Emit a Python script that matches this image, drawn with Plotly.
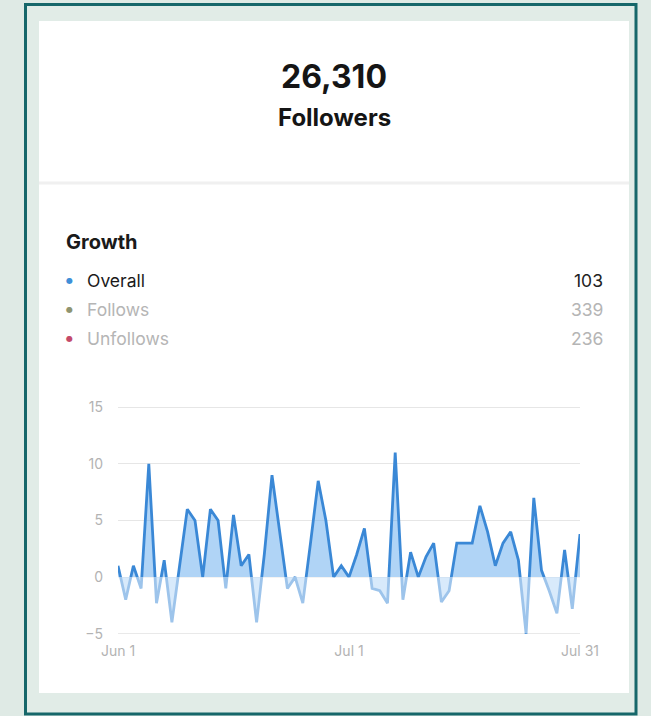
import pandas as pd
import plotly.graph_objects as go

# ---- data ----
start_date = "2023-06-01"
n_days = 61
overall_daily = [1, -2, 1, -1, 10, -2.3, 1.5, -4, 1, 6,
                 5, 0, 6, 5, -1, 5.5, 1, 2, -4, 2,
                 9, 4, -1, 0, -2.3, 3, 8.5, 5, 0, 1,
                 0, 2, 4.3, -1, -1.2, -2.3, 11, -2, 2.2, 0,
                 1.8, 3, -2.2, -1.2, 3, 3, 3, 6.3, 4, 1,
                 3, 4, 1.5, -5, 7, 0.6, -1.2, -3.2, 2.4, -2.8,
                 3.8]
total_followers = "26,310"
legend_labels = ["Overall", "Follows", "Unfollows"]
legend_values = ["103", "339", "236"]
x_tick_dates = ["2023-06-01", "2023-07-01", "2023-07-31"]
x_tick_text = ["Jun 1", "Jul 1", "Jul 31"]
y_ticks = [-5, 0, 5, 10, 15]

dates = pd.date_range(start_date, periods=n_days, freq="D")

# ---- layout geometry (pixels) ----
W, H = 651, 716
PL, PR, PT, PB = 118, 580, 405, 636   # plot area
Y_RANGE = [-5.2, 15.2]


def px(x):
    return (x - PL) / (PR - PL)


def py(y):
    return (PB - y) / (PB - PT)


FONT = "Inter"
LINE_BLUE = "#3a88d6"

fig = go.Figure()
fig.add_trace(go.Scatter(
    x=dates, y=overall_daily, mode="lines",
    line=dict(color=LINE_BLUE, width=2.8),
    fill="tozeroy", fillcolor="rgba(80,160,235,0.45)",
    hoverinfo="skip", showlegend=False,
))

shapes = [
    # outer teal frame
    dict(type="rect", xref="paper", yref="paper",
         x0=px(25.5), x1=px(636), y0=py(4.5), y1=py(714),
         line=dict(color="#16676a", width=3), fillcolor="#e1ece7", layer="below"),
    # white card
    dict(type="rect", xref="paper", yref="paper",
         x0=px(39), x1=px(629), y0=py(21), y1=py(693),
         line=dict(width=0), fillcolor="#ffffff", layer="below"),
    # divider
    dict(type="line", xref="paper", yref="paper",
         x0=px(39), x1=px(629), y0=py(183), y1=py(183),
         line=dict(color="#f0f0f0", width=3), layer="below"),
    # lighten the part below zero
    dict(type="rect", xref="paper", yref="y",
         x0=0, x1=1, y0=-4.95, y1=0,
         line=dict(width=0), fillcolor="rgba(255,255,255,0.5)", layer="above"),
]

annotations = [
    dict(text=f"<b>{total_followers}</b>", x=px(334), y=py(76),
         font=dict(family=FONT, size=32, color="#151515")),
    dict(text="<b>Followers</b>", x=px(334), y=py(117),
         font=dict(family=FONT, size=24, color="#151515")),
    dict(text="<b>Growth</b>", x=px(64), y=py(242), xanchor="left",
         font=dict(family=FONT, size=20, color="#1a1a1a")),
]

dot_colors = ["#3f8fd8", "#8f9470", "#c44a6a"]
label_colors = ["#1a1a1a", "#b5b5b5", "#b5b5b5"]
value_colors = ["#222222", "#b5b5b5", "#b5b5b5"]
row_y = [280, 309, 338]
for lab, val, dc, lc, vc, ry in zip(legend_labels, legend_values, dot_colors,
                                    label_colors, value_colors, row_y):
    annotations.append(dict(text="●", x=px(69), y=py(ry), xanchor="center",
                            font=dict(family="DejaVu Sans", size=8, color=dc)))
    annotations.append(dict(text=lab, x=px(85), y=py(ry), xanchor="left",
                            font=dict(family=FONT, size=17.5, color=lc)))
    annotations.append(dict(text=val, x=px(605), y=py(ry), xanchor="right",
                            font=dict(family=FONT, size=17.5, color=vc)))

for a in annotations:
    a.setdefault("xanchor", "center")
    a.update(xref="paper", yref="paper", yanchor="middle", showarrow=False)

fig.update_layout(
    width=W, height=H,
    margin=dict(l=PL, r=W - PR, t=PT, b=H - PB, autoexpand=False),
    paper_bgcolor="#dfeae5", plot_bgcolor="rgba(0,0,0,0)",
    shapes=shapes, annotations=annotations, showlegend=False,
    xaxis=dict(range=[dates[0], dates[-1]], tickvals=x_tick_dates, ticktext=x_tick_text,
               showgrid=False, zeroline=False, showline=False, ticks="",
               tickfont=dict(family=FONT, size=14, color="#b3b3b3"),
               ticklabelstandoff=5, fixedrange=True),
    yaxis=dict(range=Y_RANGE, tickvals=y_ticks, showgrid=True,
               gridcolor="#e6e6e6", gridwidth=1, zeroline=False, showline=False,
               ticks="", tickfont=dict(family=FONT, size=14, color="#b3b3b3"),
               ticklabelstandoff=14, fixedrange=True),
)

fig.write_html(
    "out.html",
    config={"displayModeBar": False},
    post_script="document.body.style.margin='0';document.body.style.overflow='hidden';",
)
